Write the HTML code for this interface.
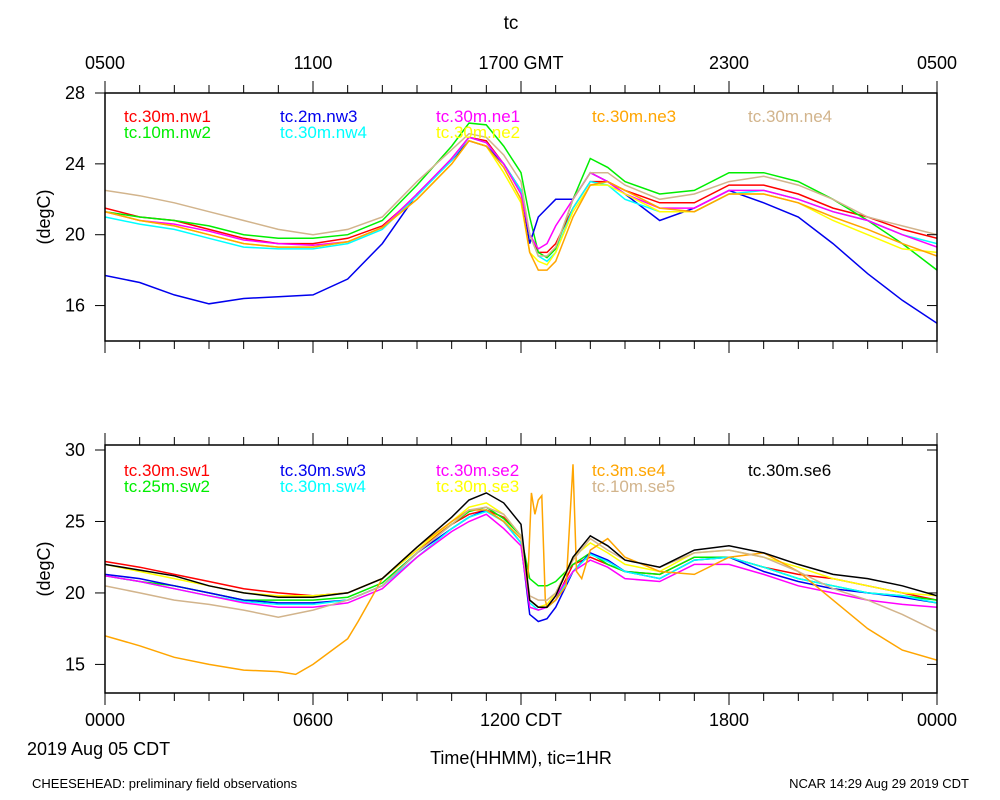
<!DOCTYPE html>
<html><head><meta charset="utf-8"><style>
body{margin:0;background:#fff;}
svg{display:block;font-family:"Liberation Sans",sans-serif;}
</style></head><body>
<svg id="chart" width="1000" height="800" viewBox="0 0 1000 800" xmlns="http://www.w3.org/2000/svg">
<rect width="1000" height="800" fill="#fff"/>
<text x="511" y="29" font-size="19" text-anchor="middle">tc</text>
<text transform="translate(50,217) rotate(-90)" font-size="18" text-anchor="middle">(degC)</text>
<text transform="translate(50,569) rotate(-90)" font-size="18" text-anchor="middle">(degC)</text>
<text x="27" y="755" font-size="18">2019 Aug 05 CDT</text>
<text x="521" y="764" font-size="18" text-anchor="middle">Time(HHMM), tic=1HR</text>
<text x="32" y="788" font-size="13">CHEESEHEAD: preliminary field observations</text>
<text x="969" y="788" font-size="13" text-anchor="end">NCAR 14:29 Aug 29 2019 CDT</text>
</svg>
<script>
const times = [0,1,2,3,4,5,6,7,8,9,10,10.5,11,11.5,12,12.25,12.5,12.75,13,13.5,14,14.5,15,16,17,18,19,20,21,22,23,24];
const topTicks = [16,20,24,28];
const botTicks = [15,20,25,30];
const topXLabels = ["0500","1100","1700 GMT","2300","0500"];
const botXLabels = ["0000","0600","1200 CDT","1800","0000"];
const topNames = ["tc.30m.nw1","tc.10m.nw2","tc.2m.nw3","tc.30m.nw4","tc.30m.ne1","tc.30m.ne2","tc.30m.ne3","tc.30m.ne4"];
const botNames = ["tc.30m.sw1","tc.25m.sw2","tc.30m.sw3","tc.30m.sw4","tc.30m.se2","tc.30m.se3","tc.3m.se4","tc.10m.se5","tc.30m.se6"];
const nw1 = [21.5,21.0,20.8,20.3,19.8,19.5,19.5,19.8,20.5,22.2,24.3,25.5,25.3,24.0,22.5,20.0,19.0,19.0,19.5,21.5,23.0,23.0,22.5,21.8,21.8,22.8,22.8,22.3,21.5,21.0,20.3,19.8];
const nw2 = [21.3,21.0,20.8,20.5,20.0,19.8,19.8,20.0,20.8,22.8,25.0,26.3,26.2,25.0,23.5,21.0,19.0,18.7,19.2,22.0,24.3,23.8,23.0,22.3,22.5,23.5,23.5,23.0,22.0,20.8,19.5,18.0];
const nw3 = [17.7,17.3,16.6,16.1,16.4,16.5,16.6,17.5,19.5,22.3,24.2,25.3,25.0,24.0,22.5,19.5,21.0,21.5,22.0,22.0,23.5,23.0,22.3,20.8,21.5,22.5,21.8,21.0,19.5,17.8,16.3,15.0];
const nw4 = [21.0,20.6,20.3,19.8,19.3,19.2,19.2,19.5,20.3,22.2,24.2,25.5,25.2,24.0,22.5,20.0,18.8,18.5,19.0,21.5,23.0,22.8,22.0,21.3,21.3,22.3,22.5,22.0,21.3,20.8,20.0,19.5];
const ne1 = [21.3,20.8,20.6,20.2,19.7,19.5,19.4,19.6,20.4,22.3,24.3,25.5,25.2,24.0,22.3,20.0,19.2,19.5,20.5,22.0,23.5,23.0,22.3,21.5,21.5,22.5,22.5,22.0,21.3,20.8,20.0,19.3];
const ne2 = [21.3,20.8,20.5,20.0,19.5,19.3,19.3,19.6,20.4,22.0,24.0,25.3,25.0,23.5,21.8,19.0,18.5,18.3,19.0,21.3,22.8,22.8,22.3,21.3,21.3,22.3,22.3,21.8,20.8,20.0,19.2,19.0];
const ne3 = [21.3,20.8,20.5,20.0,19.5,19.3,19.3,19.6,20.4,22.0,24.0,25.3,25.0,23.8,22.0,19.0,18.0,18.0,18.5,21.0,22.8,23.0,22.5,21.5,21.3,22.3,22.3,21.8,21.0,20.3,19.5,18.8];
const ne4 = [22.5,22.2,21.8,21.3,20.8,20.3,20.0,20.3,21.0,23.0,24.8,25.7,25.5,24.5,23.0,20.0,18.8,18.8,19.3,22.0,23.5,23.5,22.8,22.0,22.3,23.0,23.3,22.8,22.0,21.0,20.5,20.0];
const sw1 = [22.2,21.8,21.3,20.8,20.3,20.0,19.8,20.0,21.0,23.0,24.8,25.5,25.8,25.3,24.0,19.5,19.0,19.0,19.5,22.0,22.5,22.0,21.5,21.3,22.5,22.5,21.8,21.3,21.0,20.5,20.0,19.5];
const sw2 = [21.2,20.8,20.5,20.0,19.5,19.5,19.5,19.7,20.7,22.8,24.8,25.7,26.0,25.2,24.0,21.0,20.5,20.5,20.8,22.0,22.8,22.0,21.5,21.3,22.5,22.5,21.8,21.0,20.5,20.0,19.8,19.5];
const sw3 = [21.3,21.0,20.5,20.0,19.5,19.3,19.3,19.5,20.5,22.8,24.5,25.3,25.8,25.0,23.5,18.5,18.0,18.2,19.0,21.5,22.8,22.3,21.5,21.0,22.3,22.5,21.5,20.8,20.3,20.0,19.7,19.3];
const sw4 = [21.2,20.8,20.3,19.8,19.4,19.2,19.2,19.5,20.5,22.5,24.5,25.3,25.7,25.0,23.5,19.3,18.8,19.0,19.5,21.5,22.7,22.2,21.5,21.0,22.3,22.5,21.8,21.0,20.5,20.0,19.8,19.3];
const se2 = [21.2,20.8,20.3,19.8,19.3,19.0,19.0,19.3,20.3,22.5,24.3,25.0,25.5,24.5,23.3,19.0,18.8,19.0,19.8,21.5,22.3,21.8,21.0,20.8,22.0,22.0,21.3,20.5,20.0,19.5,19.2,19.0];
const se3 = [22.0,21.5,21.0,20.5,20.0,19.8,19.8,20.0,21.0,23.0,25.0,26.0,26.3,25.5,24.0,19.5,19.0,19.2,20.0,22.5,23.5,22.8,22.0,21.5,22.8,23.0,22.5,21.8,21.0,20.5,20.0,19.8];
const se5 = [20.5,20.0,19.5,19.2,18.8,18.3,18.8,19.5,20.5,22.8,24.8,25.8,26.0,25.5,24.0,19.8,19.5,19.5,20.0,22.3,23.8,23.0,22.3,21.8,22.8,23.0,22.5,21.5,20.3,19.5,18.5,17.3];
const se6 = [22.0,21.6,21.2,20.5,20.0,19.7,19.7,20.0,21.0,23.2,25.3,26.5,27.0,26.3,24.8,19.5,19.0,19.0,19.8,22.5,24.0,23.3,22.3,21.8,23.0,23.3,22.8,22.0,21.3,21.0,20.5,19.8];
const se4Times = [0,1,2,3,4,5,5.5,6,7,7.3,8,9,10,10.5,11,11.5,12,12.2,12.3,12.4,12.5,12.6,12.7,12.75,13,13.3,13.5,13.6,13.75,14,14.5,15,16,17,18,19,20,21,22,23,24];
const se4 = [17.0,16.3,15.5,15.0,14.6,14.5,14.3,15.0,16.8,18.0,21.0,23.2,25.0,25.8,25.8,25.0,23.8,21.0,27.0,25.5,26.5,26.8,19.5,19.0,19.5,20.5,29.0,21.5,21.0,23.0,23.8,22.5,21.5,21.3,22.5,22.8,21.5,19.5,17.5,16.0,15.3];

const svg = document.getElementById('chart');
const NS = 'http://www.w3.org/2000/svg';
const X0 = 105, X1 = 937;
const xs = h => X0 + (X1 - X0) * h / 24;
function mk(tag, attrs){const e=document.createElementNS(NS,tag);for(const k in attrs)e.setAttribute(k,attrs[k]);svg.appendChild(e);return e;}

function panel(prefix, top, bot, ymin, ymax, yticks, xlabels, labelsAbove, series, legY){
  const ys = v => bot - (bot - top) * (v - ymin) / (ymax - ymin);
  const clip = document.createElementNS(NS,'clipPath');
  clip.setAttribute('id','clip-'+prefix);
  const cr = document.createElementNS(NS,'rect');
  cr.setAttribute('x',X0);cr.setAttribute('y',top);cr.setAttribute('width',X1-X0);cr.setAttribute('height',bot-top);
  clip.appendChild(cr);svg.appendChild(clip);
  const g = mk('g',{'clip-path':'url(#clip-'+prefix+')'});
  
  
  series.forEach(s=>{
    const tt = s.t || times;
    const p = document.createElementNS(NS,'polyline');
    p.setAttribute('points', s.v.map((v,i)=>xs(tt[i]).toFixed(1)+','+ys(v).toFixed(1)).join(' '));
    p.setAttribute('fill','none');p.setAttribute('stroke',s.c);p.setAttribute('stroke-width','1.5');
    
    
    g.appendChild(p);
  });
  const fr = mk('rect',{x:X0,y:top,width:X1-X0,height:bot-top,fill:'none',stroke:'#000','stroke-width':1.5});
  
  
  for(let h=0;h<=24;h++){
    const L = h%6===0?12:8;
    mk('line',{x1:xs(h),x2:xs(h),y1:bot,y2:bot+L,stroke:'#000'});
    mk('line',{x1:xs(h),x2:xs(h),y1:top,y2:top-L,stroke:'#000'});
  }
  xlabels.forEach((lab,i)=>{
    const t = mk('text',{x:xs(i*6),y:labelsAbove?top-24:bot+33,'font-size':18,'text-anchor':'middle'});
    t.textContent = lab;
    
    
  });
  yticks.forEach(v=>{
    mk('line',{x1:X0-10,x2:X0,y1:ys(v),y2:ys(v),stroke:'#000'});
    mk('line',{x1:X1,x2:X1-10,y1:ys(v),y2:ys(v),stroke:'#000'});
    const t = mk('text',{x:X0-20,y:ys(v)+6,'font-size':18,'text-anchor':'end'});
    t.textContent = v;
    
    
  });
  series.forEach(s=>{
    const t = mk('text',{x:124+s.col*156,y:legY+s.row*16,'font-size':17,fill:s.c});
    t.textContent = s.n;
    
    
  });
}
const topSeries = [
 {n:topNames[0],c:'#ff0000',v:nw1,col:0,row:0},{n:topNames[1],c:'#00ee00',v:nw2,col:0,row:1},
 {n:topNames[2],c:'#0000ee',v:nw3,col:1,row:0},{n:topNames[3],c:'#00ffff',v:nw4,col:1,row:1},
 {n:topNames[4],c:'#ff00ff',v:ne1,col:2,row:0},{n:topNames[5],c:'#ffff00',v:ne2,col:2,row:1},
 {n:topNames[6],c:'#ffa500',v:ne3,col:3,row:0},{n:topNames[7],c:'#d2b48c',v:ne4,col:4,row:0}];
panel('top',93,341,14,28,topTicks,topXLabels,true,topSeries,122);
const botSeries = [
 {n:botNames[0],c:'#ff0000',v:sw1,col:0,row:0},{n:botNames[1],c:'#00ee00',v:sw2,col:0,row:1},
 {n:botNames[2],c:'#0000ee',v:sw3,col:1,row:0},{n:botNames[3],c:'#00ffff',v:sw4,col:1,row:1},
 {n:botNames[4],c:'#ff00ff',v:se2,col:2,row:0},{n:botNames[5],c:'#ffff00',v:se3,col:2,row:1},
 {n:botNames[6],c:'#ffa500',v:se4,t:se4Times,col:3,row:0},{n:botNames[7],c:'#d2b48c',v:se5,col:3,row:1},
 {n:botNames[8],c:'#000000',v:se6,col:4,row:0}];
panel('bottom',445,693,13,30.35,botTicks,botXLabels,false,botSeries,476);
</script>
</body></html>
